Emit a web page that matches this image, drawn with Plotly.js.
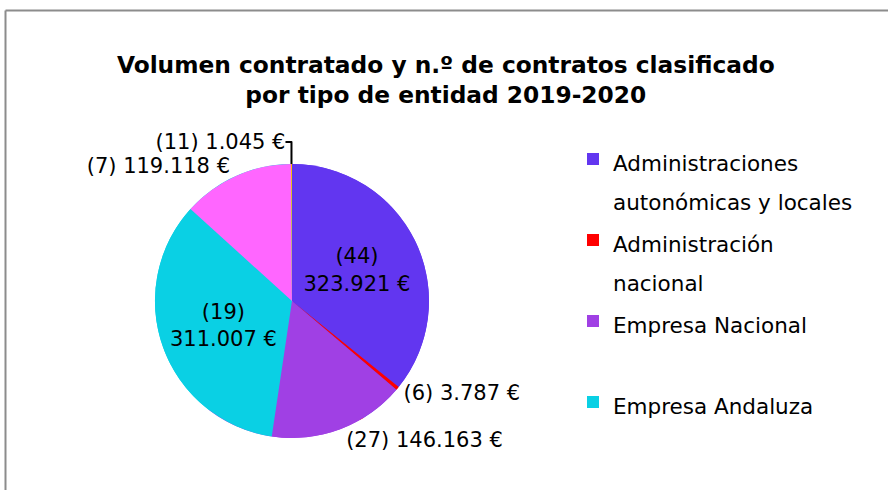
<!DOCTYPE html>
<html>
<head>
<meta charset="utf-8">
<script src="https://cdn.plot.ly/plotly-3.0.1.min.js"></script>
<style>html,body{margin:0;padding:0;background:#fff;}#chart{width:888px;height:490px;}</style>
</head>
<body>
<div id="chart"></div>
<script>
// Data
const categories = [
  "Administraciones autonómicas y locales",
  "Administración nacional",
  "Empresa Nacional",
  "Empresa Andaluza",
  "Otras entidades",
  "Sin clasificar"
];
const legendLines = [
  ["Administraciones", "autonómicas y locales"],
  ["Administración", "nacional"],
  ["Empresa Nacional", "&nbsp;"],
  ["Empresa Andaluza"]
];
const volumes = [323921, 3787, 146163, 311007, 119118, 1045];
const contracts = [44, 6, 27, 19, 7, 11];
const colors = ["#6236F0", "#FF0000", "#A040E4", "#0AD0E4", "#FF66FF", "#FFC000"];
const textPositions = ["inside", "outside", "outside", "inside", "outside", "outside"];

const FONT = "'DejaVu Sans', sans-serif";
const domain = {x: [0.1745, 0.4831], y: [0.1061, 0.6653]};

const legendLabels = legendLines.map(lines =>
  lines.map(l => '<span style="font-size:21.5px">' + l + '</span>').join("<br>"));

const templates = textPositions.map(p => p === "inside"
  ? "(%{customdata})<br>%{value:,.0f} €"
  : "(%{customdata}) %{value:,.0f} €");

// legend-only pie (hidden under the visible pie)
const legendTrace = {
  type: "pie",
  labels: legendLabels,
  values: volumes.slice(0, 4),
  marker: {colors: colors.slice(0, 4)},
  sort: false,
  direction: "clockwise",
  rotation: 0,
  textinfo: "none",
  hoverinfo: "skip",
  domain: domain,
  showlegend: true
};

const mainTrace = {
  type: "pie",
  labels: categories,
  values: volumes,
  customdata: contracts,
  marker: {colors: colors, line: {width: 0}},
  sort: false,
  direction: "clockwise",
  rotation: 0,
  texttemplate: templates,
  textposition: textPositions,
  insidetextorientation: "horizontal",
  textfont: {family: FONT, size: 21, color: "#000"},
  outsidetextfont: {family: FONT, size: 21, color: "#000"},
  insidetextfont: {family: FONT, size: 21, color: "#000"},
  hovertemplate: "%{label}<br>(%{customdata}) %{value:,.0f} €<extra></extra>",
  domain: domain,
  showlegend: false
};

const layout = {
  width: 888,
  height: 490,
  margin: {l: 0, r: 0, t: 0, b: 0},
  paper_bgcolor: "#fff",
  separators: ",.",
  font: {family: FONT, color: "#000"},
  title: {
    text: "<b>Volumen contratado y n.º de contratos clasificado<br>por tipo de entidad 2019-2020</b>",
    font: {family: FONT, size: 23.3, color: "#000"},
    x: 0.502, xanchor: "center",
    y: 1 - 73 / 490, yanchor: "middle"
  },
  legend: {
    x: 573 / 888, xanchor: "left",
    y: 1 - 133 / 490, yanchor: "top",
    valign: "top",
    font: {family: FONT, size: 30, color: "#000"},
    bgcolor: "rgba(0,0,0,0)",
    traceorder: "normal"
  },
  shapes: [
    {type: "line", xref: "paper", yref: "paper", x0: 5.5 / 888, x1: 5.5 / 888, y0: -0.05, y1: 1 - 10.5 / 490,
     line: {color: "#8C8C8C", width: 2}},
    {type: "line", xref: "paper", yref: "paper", x0: 5.5 / 888, x1: 1.05, y0: 1 - 10.5 / 490, y1: 1 - 10.5 / 490,
     line: {color: "#8C8C8C", width: 2}}
  ]
};

Plotly.newPlot("chart", [legendTrace, mainTrace], layout, {displayModeBar: false});
</script>
</body>
</html>
